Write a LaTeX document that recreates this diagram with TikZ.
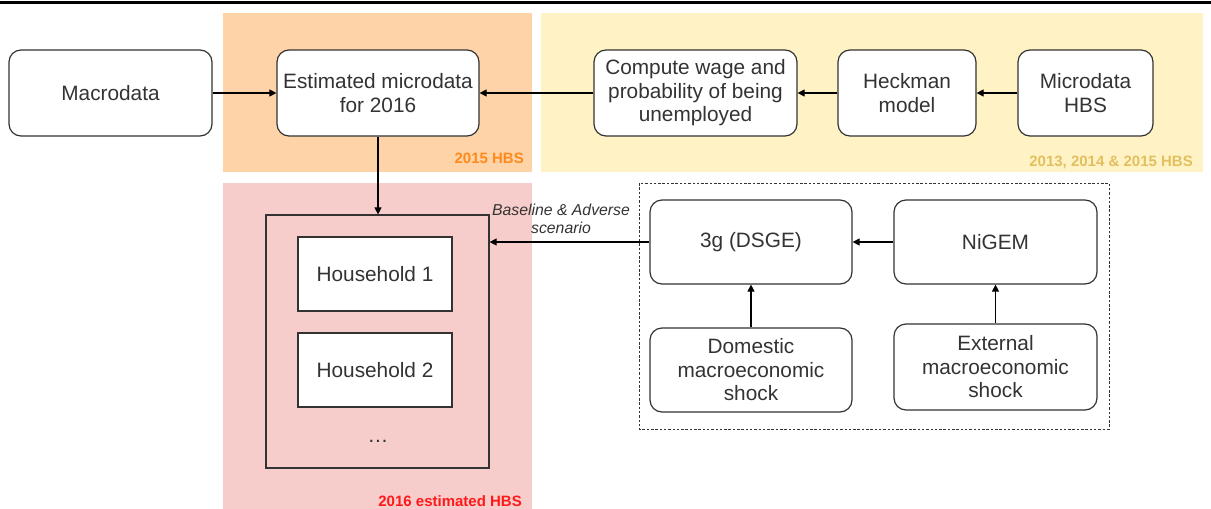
\documentclass[tikz,border=0pt]{standalone}
\usepackage{fontspec}
\setmainfont{Liberation Sans}
\usetikzlibrary{arrows.meta}
\definecolor{orfill}{HTML}{FDD3A7}
\definecolor{yefill}{HTML}{FFF2C4}
\definecolor{pkfill}{HTML}{F7CDCC}
\definecolor{orlab}{HTML}{FF8A1C}
\definecolor{yelab}{HTML}{E2C060}
\definecolor{rdlab}{HTML}{FF1A1A}
\definecolor{txt}{HTML}{333333}
\definecolor{ln}{HTML}{333333}
\tikzset{
  rbox/.style={draw=ln, line width=1.2pt, rounded corners=12pt, fill=white, align=center,
    inner sep=0pt, text=txt, font=\fontsize{20.8}{23.5}\selectfont},
  sbox/.style={draw=ln, line width=1.2pt, fill=white, align=center, inner sep=0pt,
    text=txt, font=\fontsize{20.8}{23.5}\selectfont},
  arr/.style={draw=black, line width=1.1pt, -{Triangle[length=7pt,width=7pt]}},
  reglab/.style={font=\fontsize{15}{17}\selectfont\bfseries, anchor=east, inner sep=0pt}
}
\begin{document}
\begin{tikzpicture}[x=1pt,y=-1pt]
\useasboundingbox (0,0) rectangle (1211,509);
\fill[white] (0,0) rectangle (1211,509);
% top rule
\draw[line width=3pt] (0,2.5) -- (1211,2.5);
% regions
\fill[orfill] (223,13) rectangle (532,172);
\fill[yefill] (541,13) rectangle (1203,172);
\fill[pkfill] (223,183) rectangle (532,509);
\node[reglab, text=orlab] (l2015) at (524,158) {2015 HBS};
\node[reglab, text=yelab] (l2013) at (1193,162) {2013, 2014 \& 2015 HBS};
\node[reglab, text=rdlab] (l2016) at (522,501) {2016 estimated HBS};
% dashed group
\draw[ln, line width=1pt, dash pattern=on 2.5pt off 1.8pt] (639,183) rectangle (1109,429);
% top row
\node[rbox, minimum width=203pt, minimum height=86pt] (macro) at (110.5,93) {Macrodata};
\node[rbox, minimum width=202pt, minimum height=86pt] (est) at (378,93) {Estimated microdata\\for 2016};
\node[rbox, minimum width=203pt, minimum height=86pt] (comp) at (695.5,93) {Compute wage and\\probability of being\\unemployed};
\node[rbox, minimum width=138pt, minimum height=86pt] (heck) at (907,93) {Heckman\\model};
\node[rbox, minimum width=135pt, minimum height=86pt] (micro) at (1085.5,93) {Microdata\\HBS};
% households
\node[sbox, fill=none, minimum width=223pt, minimum height=253pt] (hh) at (377.5,341.5) {};
\node[sbox, minimum width=154pt, minimum height=74pt] (h1) at (375,274) {Household 1};
\node[sbox, minimum width=154pt, minimum height=74pt] (h2) at (375,370) {Household 2};
\node[text=txt, font=\fontsize{20.8}{23}\selectfont, inner sep=0pt] (dots) at (378,441) {\ldots};
% models
\node[rbox, minimum width=202pt, minimum height=84pt] (dsge) at (751,242) {3g (DSGE)};
\node[rbox, minimum width=203pt, minimum height=84pt] (nigem) at (995.5,242) {NiGEM};
\node[rbox, minimum width=202pt, minimum height=84pt] (dom) at (751,370) {Domestic\\macroeconomic\\shock};
\node[rbox, minimum width=203pt, minimum height=86pt] (ext) at (995.5,367) {External\\macroeconomic\\shock};
% arrows
\draw[arr] (macro) -- (est);
\draw[arr] (comp) -- (est);
\draw[arr] (heck) -- (comp);
\draw[arr] (micro) -- (heck);
\draw[arr] (est.south) -- (hh.north -| est.south);
\draw[arr] (dsge.west) -- (hh.east |- dsge.west);
\node[align=center, text=txt, font=\fontsize{15.8}{18}\selectfont\itshape, inner sep=0pt] (lab) at (561,219) {Baseline \& Adverse\\scenario};
\draw[arr] (nigem) -- (dsge);
\draw[arr] (dom) -- (dsge);
\draw[arr] (ext) -- (nigem);
\end{tikzpicture}
\end{document}
